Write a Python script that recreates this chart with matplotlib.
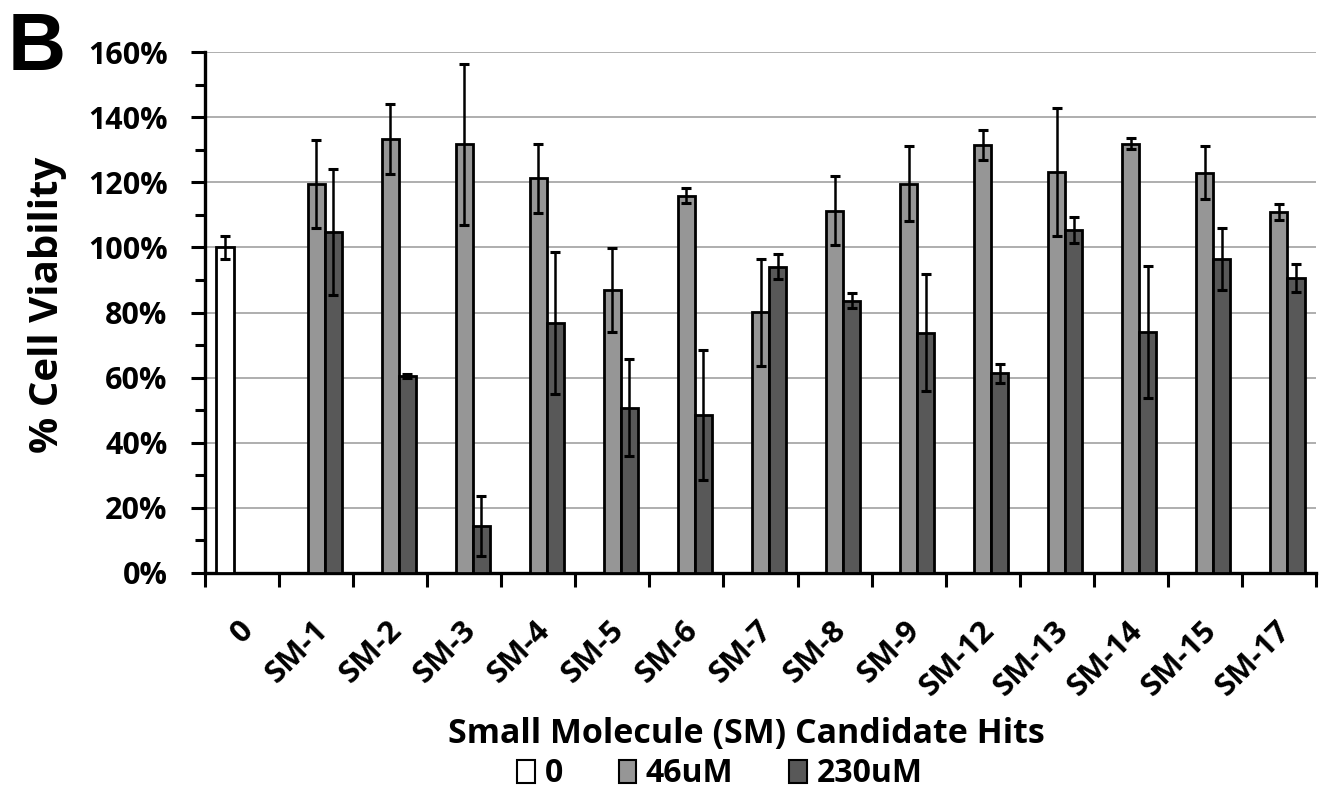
import numpy as np
import matplotlib
matplotlib.use("Agg")
import matplotlib.pyplot as plt
from matplotlib.patches import Patch
from matplotlib.transforms import ScaledTranslation

plt.rcParams['font.family'] = ['Open Sans', 'DejaVu Sans']
plt.rcParams['font.weight'] = 'bold'

# Candidate hits and measured viability (% of untreated control)
categories = ['0', 'SM-1', 'SM-2', 'SM-3', 'SM-4', 'SM-5', 'SM-6', 'SM-7',
              'SM-8', 'SM-9', 'SM-12', 'SM-13', 'SM-14', 'SM-15', 'SM-17']
series_names = ['0', '46uM', '230uM']

ctrl_vals = [100.0] + [np.nan] * 14
ctrl_err = [3.5] + [np.nan] * 14

vals_46 = [np.nan, 119.5, 133.2, 131.7, 121.2, 86.9, 115.9, 80.1,
           111.2, 119.6, 131.4, 123.2, 131.9, 122.9, 110.9]
err_46 = [np.nan, 13.5, 10.8, 24.7, 10.6, 13.0, 2.4, 16.4,
          10.6, 11.5, 4.5, 19.7, 1.8, 8.1, 2.5]

vals_230 = [np.nan, 104.8, 60.5, 14.4, 76.9, 50.8, 48.5, 94.1,
            83.6, 73.8, 61.3, 105.3, 73.9, 96.4, 90.6]
err_230 = [np.nan, 19.3, 0.5, 9.1, 21.8, 15.0, 20.0, 3.9,
           2.3, 18.0, 3.0, 4.0, 20.3, 9.5, 4.2]

y_ticks = [0, 20, 40, 60, 80, 100, 120, 140, 160]
y_tick_labels = [f"{t}%" for t in y_ticks]

colors = ['#ffffff', '#969696', '#585858']

W, H = 1336, 795
fig = plt.figure(figsize=(W / 100, H / 100), dpi=100)
ax = fig.add_axes([205 / W, 1 - 573 / H, (1316 - 205) / W, (573 - 52) / H])

x = np.arange(len(categories))
bw = 0.23
groups = [(ctrl_vals, ctrl_err), (vals_46, err_46), (vals_230, err_230)]
for k, ((v, e), c) in enumerate(zip(groups, colors)):
    xs = x + (k - 1) * bw
    ax.bar(xs, v, width=bw, color=c, edgecolor='black', linewidth=2.0, zorder=3)
    ax.errorbar(xs, v, yerr=e, fmt='none', ecolor='black', elinewidth=1.8,
                capsize=3.5, capthick=2.2, zorder=4)

ax.set_xlim(-0.5, len(categories) - 0.5)
ax.set_ylim(0, 160)

# y axis: percent labels, minor ticks between
ax.set_yticks(y_ticks)
ax.set_yticklabels(y_tick_labels, fontsize=22, fontweight='bold')
ax.set_yticks(np.arange(10, 160, 20), minor=True)
ax.tick_params(axis='y', which='major', length=10, width=2.2, pad=17, direction='out')
ax.tick_params(axis='y', which='minor', length=7, width=2.2, direction='out')

# x axis: labels at category centres, tick marks at boundaries
ax.set_xticks(x)
ax.set_xticklabels(categories, fontsize=22.5, fontweight='bold', rotation=45,
                   ha='right', va='center', rotation_mode='anchor')
ax.set_xticks(np.arange(-0.5, len(categories), 1.0), minor=True)
ax.tick_params(axis='x', which='major', length=0, pad=38)
ax.tick_params(axis='x', which='minor', length=10, width=2.2, direction='out')
shift = ScaledTranslation(7 / 100, 0, fig.dpi_scale_trans)
for lbl in ax.get_xticklabels():
    lbl.set_transform(lbl.get_transform() + shift)

ax.yaxis.grid(True, which='major', color='#a8a8a8', linewidth=1.3)
ax.set_axisbelow(True)

for s in ('top', 'right'):
    ax.spines[s].set_visible(False)
for s in ('left', 'bottom'):
    ax.spines[s].set_linewidth(2.4)
    ax.spines[s].set_color('black')

fig.text(48 / W, 1 - 305 / H, '% Cell Viability', rotation=90, ha='center',
         va='center', fontsize=29, fontweight='bold')
fig.text(746 / W, 1 - 743 / H, 'Small Molecule (SM) Candidate Hits', ha='center',
         va='baseline', fontsize=24.5, fontweight='bold')
fig.text(8 / W, 1 - 70 / H, 'B', ha='left', va='baseline', fontsize=58,
         fontweight='bold', family=['Liberation Sans', 'DejaVu Sans'])

handles = [Patch(facecolor=c, edgecolor='black', linewidth=1.5) for c in colors]
fig.legend(handles, series_names, loc='center', ncol=3, frameon=False,
           bbox_to_anchor=(720 / W, 1 - 774 / H),
           prop={'size': 23, 'weight': 'bold'},
           handlelength=0.55, handleheight=0.7, handletextpad=0.3,
           columnspacing=1.75)

fig.savefig('out.png', dpi=100)
